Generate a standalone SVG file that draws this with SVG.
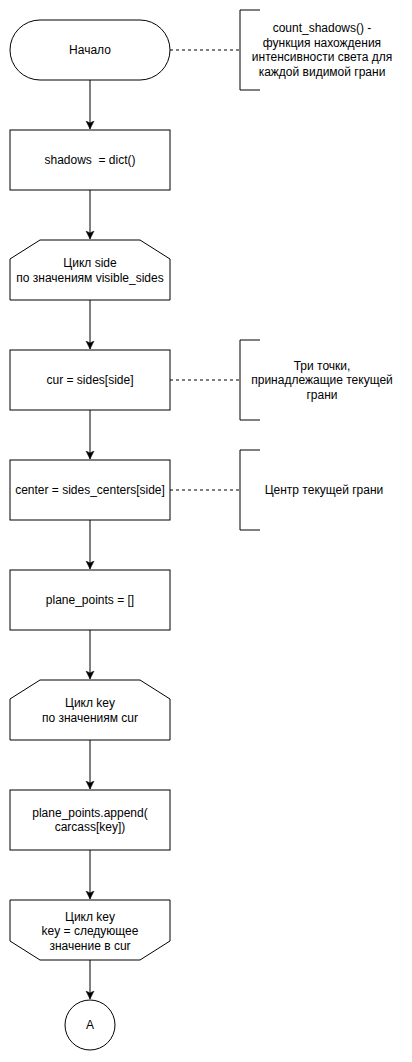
<svg xmlns="http://www.w3.org/2000/svg" width="412" height="1062" viewBox="0 0 412 1062">
<style>
.s{fill:#fff;stroke:#000;stroke-width:1}
.t{font-family:"Liberation Sans",Arial,sans-serif;font-size:12px;fill:#000;text-anchor:middle}
.c{fill:none;stroke:#000;stroke-width:1}
.d{fill:none;stroke:#000;stroke-width:1;stroke-dasharray:3 3}
</style>
<defs>
<marker id="a" markerWidth="10" markerHeight="10" refX="8" refY="5" orient="auto" markerUnits="userSpaceOnUse">
<path d="M0,1 L8,5 L0,9 L2,5 Z" fill="#000" stroke="#000" stroke-width="0.5"/>
</marker>
</defs>
<rect width="412" height="1062" fill="#fff"/>
<g id="connectors">
<line class="c" x1="90" y1="80" x2="90" y2="129" marker-end="url(#a)"/>
<line class="c" x1="90" y1="190" x2="90" y2="239" marker-end="url(#a)"/>
<line class="c" x1="90" y1="300" x2="90" y2="349" marker-end="url(#a)"/>
<line class="c" x1="90" y1="410" x2="90" y2="459" marker-end="url(#a)"/>
<line class="c" x1="90" y1="520" x2="90" y2="569" marker-end="url(#a)"/>
<line class="c" x1="90" y1="630" x2="90" y2="679" marker-end="url(#a)"/>
<line class="c" x1="90" y1="740" x2="90" y2="789" marker-end="url(#a)"/>
<line class="c" x1="90" y1="850" x2="90" y2="899" marker-end="url(#a)"/>
<line class="c" x1="90" y1="960" x2="90" y2="999" marker-end="url(#a)"/>
<line class="d" x1="170" y1="50" x2="240" y2="50"/>
<line class="d" x1="170" y1="380" x2="240" y2="380"/>
<line class="d" x1="170" y1="490" x2="240" y2="490"/>
</g>
<g id="start">
<rect class="s" x="10" y="20" width="160" height="60" rx="30" ry="30"/>
<text class="t" x="90" y="54">Начало</text>
</g>
<g id="note1">
<path class="c" d="M260,10 H240 V90 H260"/>
<text class="t" x="322" y="32">count_shadows() -</text>
<text class="t" x="322" y="46.5">функция нахождения</text>
<text class="t" x="322" y="61">интенсивности света для</text>
<text class="t" x="322" y="75.5">каждой видимой грани</text>
</g>
<g id="shadows">
<rect class="s" x="10" y="130" width="160" height="60"/>
<text class="t" x="90" y="164" xml:space="preserve">shadows  = dict()</text>
</g>
<g id="loop1">
<path class="s" d="M40,240 H140 L170,259 V300 H10 V259 Z"/>
<text class="t" x="90" y="267">Цикл side</text>
<text class="t" x="90" y="281.5">по значениям visible_sides</text>
</g>
<g id="cur">
<rect class="s" x="10" y="350" width="160" height="60"/>
<text class="t" x="90" y="384">cur = sides[side]</text>
</g>
<g id="note2">
<path class="c" d="M260,340 H240 V420 H260"/>
<text class="t" x="322" y="369.5">Три точки,</text>
<text class="t" x="322" y="384">принадлежащие текущей</text>
<text class="t" x="322" y="398.5">грани</text>
</g>
<g id="center">
<rect class="s" x="10" y="460" width="160" height="60"/>
<text class="t" x="90" y="494">center = sides_centers[side]</text>
</g>
<g id="note3">
<path class="c" d="M260,450 H240 V530 H260"/>
<text class="t" x="324" y="494">Центр текущей грани</text>
</g>
<g id="plane">
<rect class="s" x="10" y="570" width="160" height="60"/>
<text class="t" x="90" y="604">plane_points = []</text>
</g>
<g id="loop2">
<path class="s" d="M40,680 H140 L170,699 V740 H10 V699 Z"/>
<text class="t" x="90" y="707">Цикл key</text>
<text class="t" x="90" y="721.5">по значениям cur</text>
</g>
<g id="append">
<rect class="s" x="10" y="790" width="160" height="60"/>
<text class="t" x="90" y="816.5">plane_points.append(</text>
<text class="t" x="90" y="831">carcass[key])</text>
</g>
<g id="loopend">
<path class="s" d="M10,900 H170 V941 L140,960 H40 L10,941 Z"/>
<text class="t" x="90" y="920.5">Цикл key</text>
<text class="t" x="90" y="935">key = следующее</text>
<text class="t" x="90" y="949.5">значение в cur</text>
</g>
<g id="connA">
<circle class="s" cx="90" cy="1025" r="25"/>
<text class="t" x="90" y="1029">A</text>
</g>
</svg>
